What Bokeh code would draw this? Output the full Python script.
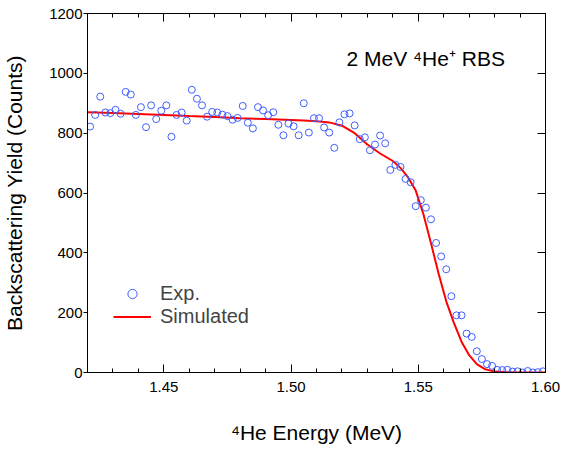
from bokeh.plotting import figure
from bokeh.models import Range1d, LinearAxis, FixedTicker, PrintfTickFormatter, Legend, LegendItem, Label
from bokeh.embed import file_html
from bokeh.resources import INLINE

# Experimental RBS spectrum (energy in MeV, counts)
energy_exp = [1.421, 1.423, 1.425, 1.427, 1.429, 1.431, 1.433, 1.435, 1.437, 1.439,
              1.441, 1.443, 1.445, 1.447, 1.449, 1.451, 1.453, 1.455, 1.457, 1.459,
              1.461, 1.463, 1.465, 1.467, 1.469, 1.471, 1.473, 1.475, 1.477, 1.479,
              1.481, 1.483, 1.485, 1.487, 1.489, 1.491, 1.493, 1.495, 1.497, 1.499,
              1.501, 1.503, 1.505, 1.507, 1.509, 1.511, 1.513, 1.515, 1.517, 1.519,
              1.521, 1.523, 1.525, 1.527, 1.529, 1.531, 1.533, 1.535, 1.537, 1.539,
              1.541, 1.543, 1.545, 1.547, 1.549, 1.551, 1.553, 1.555, 1.557, 1.559,
              1.561, 1.563, 1.565, 1.567, 1.569, 1.571, 1.573, 1.575, 1.577, 1.579,
              1.581, 1.583, 1.585, 1.587, 1.589, 1.591, 1.593, 1.595, 1.597, 1.599]
counts_exp = [822, 861, 922, 869, 867, 878, 865, 938, 929, 861,
              887, 820, 893, 847, 875, 893, 788, 861, 869, 842,
              945, 915, 893, 855, 871, 869, 862, 857, 845, 851,
              891, 835, 816, 887, 876, 860, 870, 828, 793, 832,
              823, 793, 900, 802, 850, 850, 819, 802, 751, 836,
              863, 866, 826, 780, 786, 743, 762, 792, 766, 677,
              694, 687, 647, 636, 556, 576, 551, 512, 433, 388,
              345, 255, 191, 191, 130, 119, 71, 45, 28, 22,
              9, 8, 9, 3, 4, 0, 5, 0, 1, 4]

# Simulated spectrum
energy_sim = [1.420, 1.430, 1.440, 1.450, 1.460, 1.470, 1.480, 1.490, 1.500, 1.505,
              1.510, 1.515, 1.520, 1.525, 1.530, 1.535, 1.540, 1.543, 1.546, 1.549,
              1.552, 1.555, 1.558, 1.561, 1.564, 1.567, 1.570, 1.573, 1.576, 1.580,
              1.585, 1.590, 1.600]
counts_sim = [870, 867, 864, 861, 857, 854, 850, 847, 844, 842,
              840, 836, 825, 800, 762, 732, 707, 684, 652, 608,
              530, 432, 330, 238, 166, 103, 58, 28, 12, 3,
              1, 0, 0]

x_major = [1.45, 1.50, 1.55, 1.60]
x_minor = [1.42, 1.43, 1.44, 1.45, 1.46, 1.47, 1.48, 1.49, 1.50, 1.51,
           1.52, 1.53, 1.54, 1.55, 1.56, 1.57, 1.58, 1.59, 1.60]
y_major = [0, 200, 400, 600, 800, 1000, 1200]

FONT = "Liberation Sans"
BLUE = "#3f5fff"
RED = "#ff0000"

p = figure(width=567, height=450, x_range=Range1d(1.42, 1.60), y_range=Range1d(0, 1200),
           output_backend="svg", toolbar_location=None,
           min_border_left=84, min_border_right=22, min_border_top=13, min_border_bottom=78)
p.grid.visible = False
p.outline_line_color = "black"
p.outline_line_width = 1
p.background_fill_color = "white"
p.border_fill_color = "white"

xa = p.xaxis[0]
xa.ticker = FixedTicker(ticks=x_major, minor_ticks=x_minor)
xa.formatter = PrintfTickFormatter(format="%.2f")
xa.axis_label = "\u2074He Energy (MeV)"
ya = p.yaxis[0]
ya.ticker = FixedTicker(ticks=y_major, minor_ticks=[])
ya.axis_label = "Backscattering Yield (Counts)"

for ax in (xa, ya):
    ax.axis_line_color = "black"
    ax.major_tick_line_color = "black"
    ax.minor_tick_line_color = "black"
    ax.major_label_text_font = FONT
    ax.major_label_text_font_size = "15px"
    ax.major_label_text_color = "black"
    ax.axis_label_text_font = FONT
    ax.axis_label_text_font_size = "21px"
    ax.axis_label_text_font_style = "normal"
    ax.axis_label_text_color = "black"

xa.major_tick_in = 8
xa.major_tick_out = 0
xa.minor_tick_in = 4
xa.minor_tick_out = 0
xa.major_label_standoff = 9
xa.axis_label_standoff = 26

ya.major_tick_in = 0
ya.major_tick_out = 4
ya.minor_tick_line_color = None
ya.major_label_standoff = 1
ya.axis_label_standoff = 20

top = LinearAxis(ticker=FixedTicker(ticks=x_major, minor_ticks=x_minor))
top.major_label_overrides = {t: "" for t in x_major}
top.major_label_standoff = 0
top.major_tick_in = 8
top.major_tick_out = 0
top.minor_tick_in = 4
top.minor_tick_out = 0
p.add_layout(top, "above")

right = LinearAxis(ticker=FixedTicker(ticks=y_major, minor_ticks=[]))
right.major_label_overrides = {t: "" for t in y_major}
right.major_label_standoff = 0
right.major_tick_in = 8
right.major_tick_out = 0
right.minor_tick_line_color = None
p.add_layout(right, "right")

r_sim = p.line(energy_sim, counts_sim, line_color=RED, line_width=2)
r_exp = p.scatter(energy_exp, counts_exp, marker="circle", size=7,
                  fill_color=None, line_color=BLUE, line_width=1)
# legend-only marker (NaN position: never drawn in the plot area)
r_leg = p.scatter(x=[float("nan")], y=[float("nan")], marker="circle", size=11,
                  fill_color=None, line_color=BLUE, line_width=1)

legend = Legend(items=[LegendItem(label="Exp.", renderers=[r_leg]),
                       LegendItem(label="Simulated", renderers=[r_sim])],
                location=(26, 44), glyph_width=38, glyph_height=23, label_height=23,
                spacing=0, padding=0, margin=0, label_standoff=9,
                border_line_color=None, background_fill_alpha=0,
                label_text_font=FONT, label_text_font_size="20px")
p.add_layout(legend)

title = Label(x=259, y=314, x_units="screen", y_units="screen",
              text="2 MeV \u2074He\u207a RBS", text_font=FONT, text_font_size="21px",
              text_color="black", text_baseline="alphabetic")
p.add_layout(title)

open("out.html", "w").write(file_html(p, INLINE))
